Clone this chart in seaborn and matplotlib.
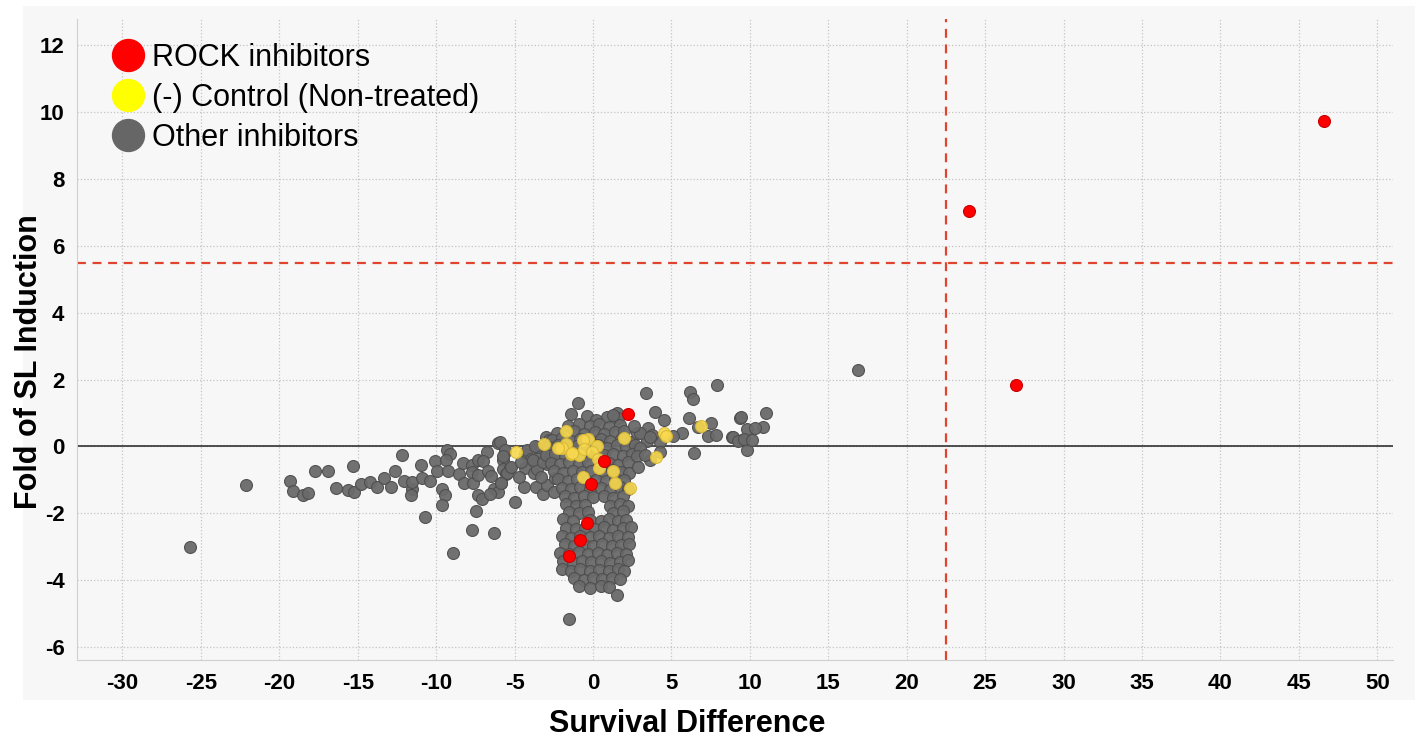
import numpy as np
import pandas as pd
import seaborn as sns
import matplotlib.pyplot as plt
from matplotlib.lines import Line2D
from matplotlib.patches import Rectangle

sns.set_style('white')
plt.rcParams['font.family'] = ['Liberation Sans', 'DejaVu Sans']
plt.rcParams['axes.unicode_minus'] = False
plt.rcParams['text.color'] = 'black'
plt.rcParams['axes.labelcolor'] = 'black'

# ============================================================
# data: (survival difference, fold of SL induction)
# ============================================================
rock_x = [46.6, 24.0, 27.0, 2.2, 0.7, -0.1, -0.4, -0.8, -1.5]
rock_y = [9.75, 7.03, 1.85, 0.98, -0.43, -1.12, -2.28, -2.8, -3.27]

control_pts = [(-1.75, 0.47), (-3.15, 0.07), (-4.93, -0.17), (-0.32, 0.21), (-0.62, 0.19),
               (-1.75, 0.07), (-2.0, -0.06), (-1.4, -0.24), (-0.87, -0.26), (-0.55, -0.08),
               (0.23, 0.01), (-0.08, -0.18), (0.34, -0.36), (0.4, -0.64), (-0.64, -0.92),
               (1.3, -0.74), (1.39, -1.09), (2.35, -1.24), (2.0, 0.25), (4.5, 0.4),
               (4.68, 0.32), (4.04, -0.32), (6.9, 0.61), (-2.2, -0.05), (-1.35, -0.2)]

# other inhibitors, left tail
other_tail = [(-25.7, -3.0), (-22.1, -1.16), (-19.3, -1.02), (-19.1, -1.34), (-18.5, -1.46),
              (-18.2, -1.38), (-17.7, -0.73), (-16.9, -0.73), (-15.3, -0.59), (-16.4, -1.24),
              (-15.65, -1.31), (-15.25, -1.37), (-14.8, -1.13), (-14.2, -1.05), (-13.8, -1.2),
              (-13.3, -0.95), (-12.9, -1.2), (-12.2, -0.27), (-12.6, -0.73), (-12.05, -1.03),
              (-11.55, -1.26), (-11.6, -1.45), (-11.57, -1.06), (-10.95, -0.54), (-10.9, -0.93),
              (-10.4, -1.02), (-10.1, -0.44), (-10.7, -2.1), (-9.93, -0.74), (-9.6, -1.28),
              (-9.45, -1.46), (-9.6, -1.76), (-8.9, -3.18), (-9.3, -0.11), (-9.12, -0.23),
              (-9.38, -0.41), (-9.27, -0.74), (-8.53, -0.83), (-8.3, -0.48), (-8.23, -1.09),
              (-7.74, -0.56), (-7.64, -1.08), (-7.32, -0.39), (-7.74, -0.76), (-7.32, -0.84),
              (-6.78, -0.16), (-6.04, 0.09), (-7.0, -0.44), (-6.68, -0.73), (-6.53, -0.89),
              (-7.49, -1.93), (-7.32, -1.46), (-7.1, -1.58), (-6.32, -1.26), (-5.89, -1.09),
              (-6.04, -1.36), (-6.57, -1.41), (-7.74, -2.5), (-6.3, -2.58), (-5.62, -0.16),
              (-5.72, -0.41), (-5.76, -0.66), (-5.55, -0.81)]

# other inhibitors, between the tail and the main cluster
other_mid = [(-5.93, 0.14), (-5.61, -0.11), (-5.75, -0.3), (-5.3, -0.63), (-5.5, -0.8),
             (-5.85, -1.1), (-4.98, -1.66), (-5.2, -0.61), (-4.34, -0.23), (-4.19, -0.11),
             (-3.95, -0.36), (-4.34, -0.64), (-3.77, -0.79), (-3.6, -0.66), (-3.38, -0.21),
             (-3.6, -0.01), (-3.02, 0.29), (-2.96, -0.51), (-4.38, -1.21), (-3.64, -1.21),
             (-3.21, -1.43), (-2.96, -1.16), (-3.7, 0.02), (-2.79, 0.19), (-2.42, -0.93),
             (-2.47, -1.36), (-3.81, -0.41), (-4.6, -0.45), (-4.7, -0.9), (-3.3, -0.9),
             (-2.7, -0.3), (-2.9, 0.0), (-3.2, -0.45),
             (-1.38, 0.97), (-0.98, 1.29), (1.51, 1.0), (1.62, 0.84)]

# other inhibitors, main cluster near zero
other_blob = [(-0.4, 0.92), (0.9, 0.88), (1.3, 0.95), (0.2, 0.78),
              (-1.6, 0.62), (-0.9, 0.68), (-0.2, 0.6), (0.4, 0.66), (1.0, 0.58), (1.7, 0.64),
              (-2.3, 0.4), (-1.2, 0.45), (-0.6, 0.38), (0.1, 0.44), (0.7, 0.36), (1.4, 0.42), (2.0, 0.47),
              (-2.6, 0.18), (-2.0, 0.24), (-1.4, 0.16), (-0.8, 0.22), (-0.1, 0.15), (0.5, 0.23),
              (1.1, 0.17), (1.8, 0.21), (2.4, 0.14),
              (-2.8, -0.02), (-2.2, 0.04), (-1.6, -0.05), (-1.0, 0.02), (-0.4, -0.03), (0.3, 0.05),
              (0.9, -0.04), (1.5, 0.03), (2.1, -0.02), (2.7, 0.05),
              (-3.0, -0.27), (-2.4, -0.22), (-1.8, -0.3), (-1.2, -0.24), (-0.6, -0.28), (0.0, -0.21),
              (0.7, -0.26), (1.3, -0.23), (1.9, -0.29), (2.5, -0.24),
              (-2.7, -0.48), (-2.1, -0.53), (-1.5, -0.47), (-0.9, -0.52), (-0.3, -0.46), (0.4, -0.51),
              (1.0, -0.49), (1.6, -0.54), (2.2, -0.47),
              (-2.5, -0.73), (-1.9, -0.78), (-1.3, -0.72), (-0.7, -0.77), (-0.1, -0.74), (0.6, -0.79),
              (1.2, -0.71), (1.8, -0.76), (2.3, -0.8),
              (-2.2, -0.98), (-1.6, -1.03), (-1.0, -0.97), (-0.4, -1.02), (0.2, -0.99), (0.8, -1.04),
              (1.4, -0.96), (2.0, -1.01),
              (-2.0, -1.23), (-1.4, -1.28), (-0.8, -1.22), (-0.2, -1.27), (0.5, -1.24), (1.1, -1.29),
              (1.7, -1.22), (2.2, -1.27),
              (-1.8, -1.48), (-1.2, -1.53), (-0.6, -1.47), (0.0, -1.52), (0.7, -1.49), (1.3, -1.54),
              (1.9, -1.47),
              (-1.7, -1.73), (-1.1, -1.78), (-0.5, -1.74), (1.1, -1.77), (1.7, -1.72), (2.2, -1.79),
              (-1.5, -1.95), (-0.9, -2.0), (-0.3, -1.96), (1.3, -1.99), (1.9, -1.94),
              (-1.9, -2.18), (-1.3, -2.23), (-0.2, -2.19), (0.5, -2.24), (1.0, -2.17), (1.6, -2.22),
              (2.1, -2.2),
              (-1.7, -2.43), (-1.1, -2.48), (-0.5, -2.44), (0.1, -2.47), (0.7, -2.42), (1.3, -2.49),
              (1.9, -2.45), (2.4, -2.41),
              (-2.0, -2.68), (-1.4, -2.73), (-0.8, -2.67), (-0.2, -2.72), (0.4, -2.69), (1.0, -2.74),
              (1.6, -2.68), (2.2, -2.71),
              (-1.8, -2.93), (-1.2, -2.98), (-0.6, -2.94), (0.0, -2.97), (0.6, -2.92), (1.2, -2.99),
              (1.8, -2.95), (2.3, -2.91),
              (-2.1, -3.18), (-1.5, -3.23), (-0.9, -3.17), (-0.3, -3.22), (0.3, -3.19), (0.9, -3.24),
              (1.5, -3.18), (2.1, -3.21),
              (-1.9, -3.43), (-1.3, -3.48), (-0.7, -3.44), (-0.1, -3.47), (0.5, -3.42), (1.1, -3.49),
              (1.7, -3.45), (2.2, -3.41),
              (-2.0, -3.68), (-1.4, -3.73), (-0.8, -3.67), (-0.2, -3.72), (0.4, -3.69), (1.0, -3.74),
              (1.6, -3.68), (2.0, -3.72),
              (-1.2, -3.93), (-0.6, -3.98), (0.0, -3.94), (0.6, -3.97), (1.2, -3.92), (1.7, -3.96),
              (-0.9, -4.18), (-0.2, -4.22), (0.5, -4.17), (1.0, -4.21), (1.5, -4.45),
              (-1.5, -5.15)]

# other inhibitors, right side
other_right = [(3.38, 1.6), (6.19, 1.63), (6.36, 1.41), (7.89, 1.83), (3.96, 1.03), (4.5, 0.79),
               (6.12, 0.84), (7.53, 0.69), (9.38, 0.84), (8.84, 0.29), (9.48, 0.19), (9.85, -0.12),
               (6.46, -0.21), (5.66, 0.41), (5.12, 0.31), (7.36, 0.31), (7.85, 0.34), (4.27, 0.14),
               (3.53, 0.54), (3.74, 0.34), (3.43, 0.17), (4.27, -0.16), (3.64, -0.41), (3.0, -0.06),
               (2.79, 0.39), (6.72, 0.59), (3.0, 0.39), (3.64, 0.29), (9.42, 0.87), (11.04, 1.0),
               (10.83, 0.57), (8.91, 0.29), (9.27, 0.16), (9.8, 0.51), (10.33, 0.54), (9.63, 0.21),
               (10.12, 0.19), (16.9, 2.3), (2.8, -0.3), (3.3, -0.25), (2.9, -0.6), (2.6, 0.6)]

x_cut = 22.5   # survival difference threshold
y_cut = 5.5    # fold threshold

grp_rock = 'ROCK inhibitors'
grp_ctrl = '(-) Control (Non-treated)'
grp_other = 'Other inhibitors'

other_pts = other_tail + other_mid + other_blob + other_right
df_other = pd.DataFrame(other_pts, columns=['x', 'y'])
df_ctrl = pd.DataFrame(control_pts, columns=['x', 'y'])
df_rock = pd.DataFrame({'x': rock_x, 'y': rock_y})

fig = plt.figure(figsize=(14.25, 7.4), dpi=100)
# light grey panel behind the plot and tick labels
fig.patches.append(Rectangle((0.016, 0.054), 0.977, 0.938, transform=fig.transFigure,
                             facecolor='#f7f7f7', edgecolor='none', zorder=-1))
ax = fig.add_axes([0.054, 0.108, 0.9235, 0.866])
ax.set_facecolor('#f7f7f7')

sns.scatterplot(data=df_other, x='x', y='y', ax=ax, color='#6a6a6a', edgecolor='#4e4e4e',
                linewidth=0.8, s=74, alpha=0.95, zorder=3, legend=False)
sns.scatterplot(data=df_ctrl, x='x', y='y', ax=ax, color='#f7d84e', edgecolor='#d9b832',
                linewidth=0.8, s=74, alpha=0.9, zorder=4, legend=False)
sns.scatterplot(data=df_rock, x='x', y='y', ax=ax, color='#ff0000', edgecolor='#c80000',
                linewidth=0.8, s=74, zorder=5, legend=False)

ax.axhline(0, color='#222222', linewidth=1.1, zorder=2)
ax.axvline(x_cut, color='#e0442c', linewidth=1.6, linestyle=(0, (4, 3)), zorder=2)
ax.axhline(y_cut, color='#e0442c', linewidth=1.6, linestyle=(0, (4, 3)), zorder=2)

ax.set_xlim(-32.9, 51.0)
ax.set_ylim(-6.39, 12.78)
ax.set_xticks(np.arange(-30, 51, 5))
ax.set_yticks(np.arange(-6, 13, 2))
ax.grid(True, linestyle=':', color='#c4c4c4', linewidth=0.9, zorder=0)
ax.set_axisbelow(True)
for side in ['top', 'right']:
    ax.spines[side].set_visible(False)
for side in ['left', 'bottom']:
    ax.spines[side].set_color('#d0d0d0')
ax.tick_params(length=0, labelsize=16, pad=9, labelcolor='black')
for lab in ax.get_xticklabels() + ax.get_yticklabels():
    lab.set_fontweight('bold')

ax.set_xlabel('Survival Difference', fontsize=22, fontweight='bold', color='black')
ax.set_ylabel('Fold of SL Induction', fontsize=22, fontweight='bold', color='black')
ax.xaxis.set_label_coords(0.464, -0.076)
ax.yaxis.set_label_coords(-0.025, 0.465)

handles = [Line2D([], [], marker='o', linestyle='', markersize=23,
                  markerfacecolor=c, markeredgecolor=c)
           for c in ['#ff0000', '#ffff00', '#666666']]
leg = ax.legend(handles, [grp_rock, grp_ctrl, grp_other], loc='upper left',
                bbox_to_anchor=(0.027, 0.963), frameon=False, fontsize=22,
                handlelength=1.0, handletextpad=0.3, labelspacing=0.32,
                borderaxespad=0, borderpad=0)
for t in leg.get_texts():
    t.set_color('black')

plt.savefig('out.png', dpi=100)
